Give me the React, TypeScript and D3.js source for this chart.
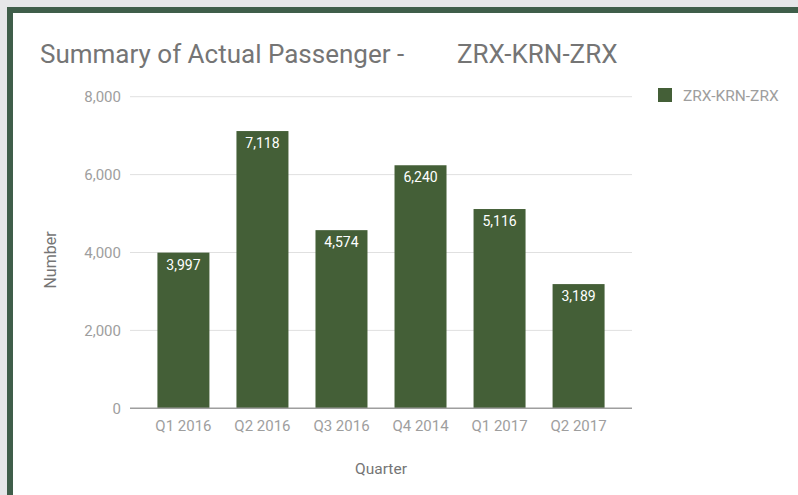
import React from "react";
import * as d3 from "d3";

const categories = ["Q1 2016", "Q2 2016", "Q3 2016", "Q4 2014", "Q1 2017", "Q2 2017"];
const values = [3997, 7118, 4574, 6240, 5116, 3189];
const yTicks = [0, 2000, 4000, 6000, 8000];
const seriesName = "ZRX-KRN-ZRX";
const titleLeft = "Summary of Actual Passenger -";
const titleRight = "ZRX-KRN-ZRX";
const xTitle = "Quarter";
const yTitle = "Number";

const W = 798;
const H = 495;
const FONT = "Roboto, 'Noto Sans', sans-serif";
const BAR = "#445f37";
const FRAME = "#3f5e4a";
const GRAY_TEXT = "#9e9e9e";

export default function App() {
  const x = d3
    .scaleBand<string>()
    .domain(categories)
    .range([130, 632])
    .paddingInner(0.342)
    .paddingOuter(0.347);
  const y = d3.scaleLinear().domain([0, 8000]).range([408.3, 96.7]);
  const fmt = d3.format(",");

  return (
    <div style={{ position: "absolute", left: 0, top: 0, width: W, height: H }}>
      <svg width={W} height={H} style={{ display: "block" }} fontFamily={FONT}>
        <rect x={0} y={0} width={W} height={H} fill="#e6e7e9" />
        <rect x={7} y={7} width={W - 7} height={H - 7} fill={FRAME} />
        <rect x={13} y={13} width={W - 13} height={H - 13} fill="#ffffff" />

        <text x={40} y={63} fontSize={26} fill="#757575">
          {titleLeft}
        </text>
        <text x={457} y={63} fontSize={26} fill="#757575">
          {titleRight}
        </text>

        {yTicks.map((t) => (
          <g key={t}>
            {t !== 0 && (
              <line x1={130} x2={632} y1={y(t)} y2={y(t)} stroke="#e0e0e0" strokeWidth={1} />
            )}
            <text
              x={121}
              y={y(t)}
              dy="0.35em"
              textAnchor="end"
              fontSize={15}
              fill={GRAY_TEXT}
            >
              {fmt(t)}
            </text>
          </g>
        ))}

        {categories.map((c, i) => {
          const v = values[i];
          const bx = x(c)!;
          const bw = x.bandwidth();
          return (
            <g key={c}>
              <rect x={bx} y={y(v)} width={bw} height={y(0) - y(v)} fill={BAR} />
              <text
                x={bx + bw / 2}
                y={y(v) + 12}
                dy="0.35em"
                textAnchor="middle"
                fontSize={14}
                fill="#ffffff"
              >
                {fmt(v)}
              </text>
              <text
                x={bx + bw / 2}
                y={425.5}
                dy="0.35em"
                textAnchor="middle"
                fontSize={15}
                fill={GRAY_TEXT}
              >
                {c}
              </text>
            </g>
          );
        })}

        <line x1={130} x2={632} y1={y(0)} y2={y(0)} stroke="#9e9e9e" strokeWidth={1.5} />

        <text x={381} y={469} dy="0.35em" textAnchor="middle" fontSize={15.5} fill="#757575">
          {xTitle}
        </text>
        <text
          transform={`translate(50,260) rotate(-90)`}
          dy="0.35em"
          textAnchor="middle"
          fontSize={16}
          fill="#757575"
        >
          {yTitle}
        </text>

        <rect x={658} y={88} width={14} height={14} fill={BAR} />
        <text x={683} y={96} dy="0.35em" fontSize={15.5} fill={GRAY_TEXT}>
          {seriesName}
        </text>
      </svg>
    </div>
  );
}
